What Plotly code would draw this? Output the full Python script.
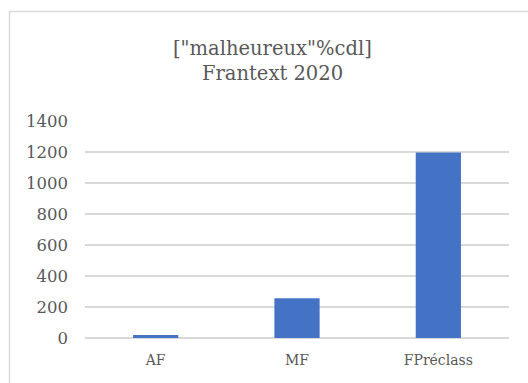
import plotly.graph_objects as go

# Corpus periods and hit counts
periods = ["AF", "MF", "FPréclass"]
counts = [20, 256, 1196]
y_ticks = [0, 200, 400, 600, 800, 1000, 1200, 1400]
title_lines = ["[\"malheureux\"%cdl]", "Frantext 2020"]

W, H = 528, 383
L, R, T, B = 85, 19, 121, 45
plot_h = H - T - B
plot_w = W - L - R

text_color = "#595959"
grid_color = "#D9D9D9"
serif = "DejaVu Serif"

fig = go.Figure(
    go.Bar(
        x=periods,
        y=counts,
        marker=dict(color="#4472C4", line=dict(width=0)),
        hoverinfo="x+y",
    )
)

# Chart-area frame (runs off the right and bottom edges)
fig.add_shape(
    type="rect",
    xref="paper", yref="paper",
    x0=(9.5 - L) / plot_w, x1=(W + 20 - L) / plot_w,
    y0=-(B + 20) / plot_h, y1=(H - B - 11.5) / plot_h,
    line=dict(color=grid_color, width=1.5),
    fillcolor="rgba(0,0,0,0)",
    layer="below",
)

# Two-line chart title, centred on the chart area
for line, y_px in zip(title_lines, [48, 73]):
    fig.add_annotation(
        text=line,
        xref="paper", yref="paper",
        x=(272 - L) / plot_w, y=(H - B - y_px) / plot_h,
        xanchor="center", yanchor="middle",
        showarrow=False,
        font=dict(family=serif, size=19.5, color=text_color),
    )

fig.update_layout(
    width=W, height=H,
    margin=dict(l=L, r=R, t=T, b=B),
    paper_bgcolor="white",
    plot_bgcolor="white",
    showlegend=False,
    bargap=0.68,
    font=dict(family=serif, size=15, color=text_color),
    xaxis=dict(
        showgrid=False,
        showline=False,
        ticks="",
        tickfont=dict(size=14, color=text_color),
        ticklabelstandoff=12,
    ),
    yaxis=dict(
        range=[0, 1400],
        tickvals=y_ticks,
        ticktext=[str(v) for v in y_ticks],
        showgrid=True,
        gridcolor=grid_color,
        gridwidth=1.5,
        zeroline=True,
        zerolinecolor=grid_color,
        zerolinewidth=1.5,
        showline=False,
        ticks="",
        tickfont=dict(size=16.5, color=text_color),
        ticklabelstandoff=16,
    ),
)

fig.write_html("out.html")
